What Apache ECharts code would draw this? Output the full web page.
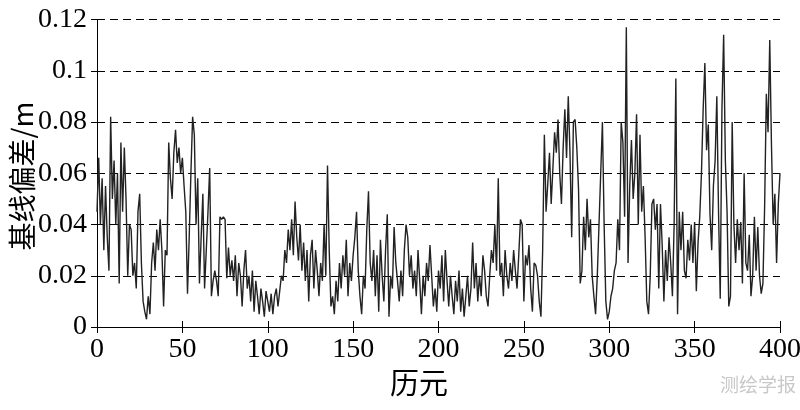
<!DOCTYPE html>
<html>
<head>
<meta charset="utf-8">
<script src="https://cdn.jsdelivr.net/npm/echarts@6/dist/echarts.min.js"></script>
<style>
html,body{margin:0;padding:0;background:#fff;}
#chart{width:800px;height:410px;}
</style>
</head>
<body>
<div id="chart"></div>
<script>
// Baseline deviation (m) per epoch
const dev000 = [
  0.045,0.066,0.040,0.058,0.030,0.055,0.035,0.022,0.082,0.050,
  0.065,0.040,0.060,0.017,0.072,0.045,0.070,0.050,0.020,0.040,
  0.038,0.020,0.025,0.015,0.045,0.052,0.025,0.010,0.006,0.003,
  0.012,0.005,0.025,0.033,0.022,0.038,0.030,0.042,0.030,0.008,
  0.030,0.028,0.072,0.058,0.050,0.068,0.077,0.064,0.070,0.060,
  0.066,0.055,0.045,0.013,0.035,0.060,0.082,0.075,0.040,0.058,
  0.017,0.035,0.052,0.015,0.030,0.045,0.062,0.012,0.018,0.022,
  0.018,0.012,0.043,0.042,0.043,0.042,0.019,0.031,0.020,0.026,
  0.018,0.028,0.012,0.025,0.020,0.008,0.022,0.030,0.015,0.020,
  0.010,0.022,0.006,0.018,0.012,0.005,0.015,0.010,0.004,0.014
];
const dev100 = [
  0.010,0.006,0.013,0.005,0.012,0.015,0.008,0.014,0.020,0.018,
  0.030,0.025,0.038,0.030,0.042,0.028,0.049,0.035,0.026,0.040,
  0.022,0.033,0.018,0.030,0.010,0.028,0.034,0.015,0.030,0.022,
  0.012,0.025,0.018,0.040,0.020,0.063,0.030,0.008,0.012,0.005,
  0.018,0.010,0.025,0.015,0.028,0.020,0.034,0.012,0.025,0.018,
  0.028,0.035,0.045,0.022,0.012,0.005,0.020,0.015,0.038,0.053,
  0.025,0.018,0.030,0.012,0.028,0.006,0.034,0.020,0.010,0.030,
  0.044,0.004,0.020,0.015,0.039,0.025,0.018,0.010,0.022,0.012,
  0.030,0.040,0.035,0.020,0.028,0.015,0.022,0.012,0.030,0.018,
  0.005,0.020,0.012,0.025,0.018,0.032,0.020,0.008,0.015,0.006
];
const dev200 = [
  0.022,0.015,0.028,0.010,0.030,0.018,0.008,0.020,0.012,0.005,
  0.018,0.010,0.022,0.006,0.015,0.004,0.012,0.020,0.008,0.015,
  0.033,0.015,0.025,0.010,0.020,0.012,0.028,0.022,0.012,0.008,
  0.020,0.030,0.025,0.040,0.022,0.058,0.020,0.025,0.012,0.030,
  0.020,0.015,0.025,0.018,0.030,0.022,0.015,0.028,0.042,0.040,
  0.010,0.028,0.024,0.032,0.015,0.006,0.025,0.024,0.020,0.010,
  0.004,0.030,0.075,0.045,0.056,0.068,0.048,0.062,0.076,0.068,
  0.081,0.060,0.048,0.070,0.085,0.066,0.090,0.068,0.035,0.080,
  0.081,0.070,0.054,0.017,0.022,0.043,0.030,0.050,0.035,0.042,
  0.020,0.012,0.005,0.020,0.040,0.060,0.080,0.040,0.010,0.003
];
const dev300 = [
  0.006,0.012,0.015,0.022,0.025,0.042,0.030,0.080,0.072,0.043,
  0.117,0.025,0.055,0.073,0.050,0.060,0.083,0.040,0.075,0.045,
  0.055,0.035,0.010,0.005,0.020,0.048,0.050,0.038,0.048,0.015,
  0.048,0.032,0.010,0.030,0.018,0.035,0.025,0.012,0.040,0.097,
  0.005,0.045,0.030,0.045,0.022,0.019,0.034,0.026,0.040,0.025,
  0.041,0.014,0.033,0.043,0.060,0.085,0.103,0.069,0.079,0.044,
  0.030,0.055,0.065,0.090,0.045,0.011,0.085,0.114,0.065,0.045,
  0.008,0.012,0.080,0.040,0.025,0.042,0.030,0.041,0.017,0.060,
  0.025,0.022,0.036,0.012,0.020,0.043,0.022,0.039,0.020,0.013,
  0.017,0.047,0.091,0.076,0.112,0.071,0.040,0.052,0.025,0.048,0.060
];
const xTicks = [0, 50, 100, 150, 200, 250, 300, 350, 400];
const yTicks = [0, 0.02, 0.04, 0.06, 0.08, 0.1, 0.12];
const xName = '历元';
const yName = '基线偏差/m';
const watermark = '测绘学报';

const deviation = dev000.concat(dev100, dev200, dev300);
const seriesData = deviation.map((v, i) => [i, v]);

const serif = '"Liberation Serif", "Times New Roman", serif';
const cjk = '"Noto Sans CJK SC", sans-serif';

const chart = echarts.init(document.getElementById('chart'), null, {renderer: 'canvas'});
chart.setOption({
  animation: false,
  backgroundColor: '#ffffff',
  grid: {left: 97, right: 20, top: 19.5, bottom: 83, containLabel: false, outerBoundsMode: 'none'},
  xAxis: [{
    type: 'value', min: xTicks[0], max: xTicks[xTicks.length - 1], interval: 50,
    position: 'bottom',
    axisLine: {show: true, lineStyle: {color: '#000', width: 1}},
    axisTick: {show: true, inside: true, length: 6, lineStyle: {color: '#000'}},
    axisLabel: {color: '#000', fontFamily: serif, fontSize: 28, margin: 9},
    splitLine: {show: false}
  }, {
    type: 'value', min: xTicks[0], max: xTicks[xTicks.length - 1], interval: 50,
    position: 'top',
    axisLine: {show: true, lineStyle: {color: '#000', width: 1}},
    axisTick: {show: true, inside: true, length: 6, lineStyle: {color: '#000'}},
    axisLabel: {show: false},
    splitLine: {show: false}
  }],
  yAxis: [{
    type: 'value', min: yTicks[0], max: yTicks[yTicks.length - 1], interval: 0.02,
    position: 'left',
    axisLine: {show: true, lineStyle: {color: '#000', width: 1}},
    axisTick: {show: true, inside: true, length: 6, lineStyle: {color: '#000'}},
    axisLabel: {color: '#000', fontFamily: serif, fontSize: 28, margin: 10,
      formatter: v => String(Math.round(v * 1000) / 1000)},
    splitLine: {show: true, lineStyle: {color: '#000', width: 1, type: [8, 5]}}
  }, {
    type: 'value', min: yTicks[0], max: yTicks[yTicks.length - 1], interval: 0.02,
    position: 'right',
    axisLine: {show: true, lineStyle: {color: '#000', width: 1}},
    axisTick: {show: true, inside: true, length: 6, lineStyle: {color: '#000'}},
    axisLabel: {show: false},
    splitLine: {show: false}
  }],
  graphic: [{
    type: 'text', x: 22, y: 176, rotation: Math.PI / 2,
    style: {text: yName, fill: '#000', font: '28px "Noto Sans CJK SC", sans-serif',
      align: 'center', verticalAlign: 'middle'}
  }, {
    type: 'text', left: 390, top: 368,
    style: {text: xName, fill: '#000', font: '29px "Noto Sans CJK SC", sans-serif'}
  }, {
    type: 'text', right: 4, top: 375,
    style: {text: watermark, fill: '#c8c8c8', font: '19px "Noto Sans CJK SC", sans-serif'}
  }],
  series: [{
    type: 'line',
    data: seriesData,
    xAxisIndex: 0, yAxisIndex: 0,
    symbol: 'none',
    lineStyle: {color: '#222', width: 1.4},
    z: 3
  }]
});
</script>
</body>
</html>
